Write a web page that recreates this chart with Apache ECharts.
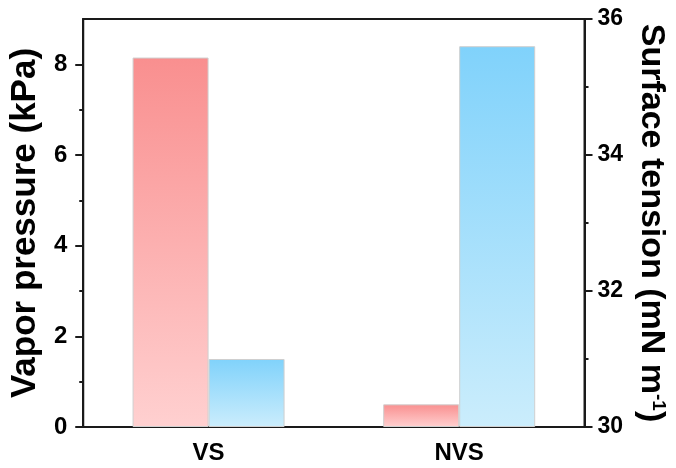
<!DOCTYPE html>
<html>
<head>
<meta charset="utf-8">
<script src="https://cdn.jsdelivr.net/npm/echarts@6/dist/echarts.min.js"></script>
<style>
  html, body { margin: 0; padding: 0; background: #fff; }
  #chart { width: 676px; height: 468px; }
</style>
</head>
<body>
<div id="chart"></div>
<script>
// Samples and their measured properties
const categories = ['VS', 'NVS'];
const vaporPressure = [8.15, 0.5];     // kPa, left axis
const surfaceTension = [31.0, 35.6];   // mN m^-1, right axis

// Tick positions
const leftMajor = [0, 2, 4, 6, 8];
const leftMinor = [1, 3, 5, 7];
const rightMajor = [30, 32, 34, 36];
const rightMinor = [31, 33, 35];

const FONT = 'Liberation Sans, Arial, sans-serif';
const INK = '#1a1a1a';

const chart = echarts.init(document.getElementById('chart'));

function grad(top, bottom) {
  return new echarts.graphic.LinearGradient(0, 0, 0, 1, [
    { offset: 0, color: top },
    { offset: 1, color: bottom }
  ]);
}

const hiddenAxisBits = {
  axisLine: { show: false },
  axisLabel: { show: false },
  splitLine: { show: false }
};

chart.setOption({
  animation: false,
  backgroundColor: '#fff',
  grid: {
    left: 80, right: 87, top: 19, bottom: 41,
    show: true, borderColor: INK, borderWidth: 2, backgroundColor: 'transparent'
  },
  xAxis: {
    type: 'category',
    data: categories,
    axisLine: { lineStyle: { color: INK, width: 2 } },
    axisTick: { alignWithLabel: true, length: 6, lineStyle: { color: INK, width: 2 } },
    axisLabel: { color: '#000', fontFamily: FONT, fontWeight: 'bold', fontSize: 24, margin: 14 }
  },
  yAxis: [
    {
      type: 'value', position: 'left', min: 0, max: 9,
      name: 'Vapor pressure (kPa)',
      nameLocation: 'middle', nameRotate: 90, nameGap: 33,
      nameTextStyle: { color: '#000', fontFamily: FONT, fontWeight: 'bold', fontSize: 35 },
      axisLine: { show: true, lineStyle: { color: INK, width: 2 } },
      axisTick: { show: true, customValues: leftMajor, length: 8, lineStyle: { color: INK, width: 2 } },
      axisLabel: { customValues: leftMajor, color: '#000', fontFamily: FONT, fontWeight: 'bold', fontSize: 24, margin: 16 },
      splitLine: { show: false }
    },
    Object.assign({
      type: 'value', position: 'left', min: 0, max: 9,
      axisTick: { show: true, customValues: leftMinor, length: 4, lineStyle: { color: INK, width: 2 } }
    }, hiddenAxisBits),
    {
      type: 'value', position: 'right', min: 30, max: 36, startValue: 30,
      name: '{t|Surface tension (mN m}{s|-1}{t|)}',
      nameLocation: 'middle', nameRotate: -90, nameGap: 48,
      nameTextStyle: {
        rich: {
          t: { color: '#000', fontFamily: FONT, fontWeight: 'bold', fontSize: 34 },
          s: { color: '#000', fontFamily: FONT, fontWeight: 'bold', fontSize: 19, verticalAlign: 'top', padding: [0, 0, 14, 0] }
        }
      },
      axisLine: { show: true, lineStyle: { color: INK, width: 2 } },
      axisTick: { show: true, customValues: rightMajor, length: 8, lineStyle: { color: INK, width: 2 } },
      axisLabel: { customValues: rightMajor, color: '#000', fontFamily: FONT, fontWeight: 'bold', fontSize: 23, margin: 13 },
      splitLine: { show: false }
    },
    Object.assign({
      type: 'value', position: 'right', min: 30, max: 36,
      axisTick: { show: true, customValues: rightMinor, length: 4, lineStyle: { color: INK, width: 2 } }
    }, hiddenAxisBits)
  ],
  series: [
    {
      name: 'Vapor pressure',
      type: 'bar',
      yAxisIndex: 0,
      data: vaporPressure,
      barWidth: 76,
      barGap: '0%',
      itemStyle: { color: grad('#f98f8f', '#ffd0d0'), borderColor: '#cfcfcf', borderWidth: 1 }
    },
    {
      name: 'Surface tension',
      type: 'bar',
      yAxisIndex: 2,
      data: surfaceTension,
      barWidth: 76,
      barGap: '0%',
      itemStyle: { color: grad('#80d2fb', '#cbedfc'), borderColor: '#cfcfcf', borderWidth: 1 }
    }
  ]
});
</script>
</body>
</html>
